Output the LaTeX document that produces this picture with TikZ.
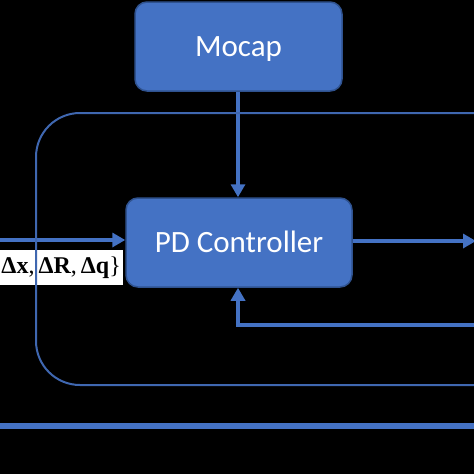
\documentclass[tikz,border=0pt]{standalone}
\usepackage{fontspec}
\setmainfont{Carlito}
\newfontfamily\serifbf{Liberation Serif}
\usetikzlibrary{arrows.meta}
\definecolor{boxblue}{HTML}{4472C4}
\definecolor{boxedge}{HTML}{2F528F}
\definecolor{linkblue}{HTML}{4472C4}
\definecolor{loopblue}{HTML}{3F67B0}
\tikzset{
  blockbox/.style={draw=boxedge, line width=1.5pt, fill=boxblue, rounded corners=12pt,
    text=white, font=\fontsize{31}{36}\selectfont, inner sep=0pt,
    text height=20pt, text depth=0pt},
  flow/.style={draw=linkblue, line width=4.5pt, -{Triangle[length=13pt,width=14pt]}},
  plainflow/.style={draw=linkblue, line width=4.5pt},
  loopline/.style={draw=loopblue, line width=2pt, rounded corners=44pt},
  labelbox/.style={fill=white, text=black, inner xsep=2pt, inner ysep=3pt,
    font=\serifbf\fontsize{24}{28}\selectfont}
}
\begin{document}
\begin{tikzpicture}[x=1pt,y=-1pt]
\fill[black] (0,0) rectangle (474,474);
\useasboundingbox (0,0) rectangle (474,474);
\clip (0,0) rectangle (474,474);
\node[blockbox, minimum width=207pt, minimum height=89pt] (mocap) at (238.5,46.5) {Mocap};
\node[blockbox, minimum width=226pt, minimum height=89pt] (pd) at (239,242.5) {PD Controller};
\node[labelbox, anchor=east, minimum height=35pt, minimum width=123pt, align=right] (lab) at (123,267.5) {\hfill\textbf{Δx},\,\textbf{ΔR},\,\textbf{Δq}\}};
\coordinate (inL) at (0,240);
\coordinate (outR) at (476,241);
\coordinate (fbR) at (480,325);
\coordinate (fbC) at (238,325);
\coordinate (loopTR) at (530,113);
\coordinate (loopBR) at (530,385);
\coordinate (loopTL) at (36,113);
\coordinate (loopBL) at (36,385);
\coordinate (baseL) at (-5,426);
\coordinate (baseR) at (480,426);
\draw[flow] (mocap.south -| 238,0) -- (pd.north -| 238,0);
\draw[flow] (inL) -- (inL -| pd.west);
\draw[flow] (pd.east |- outR) -- (outR);
\draw[flow] (fbR) -- (fbC) -- (fbC |- pd.south);
\draw[loopline] (loopTR) -- (loopTL) -- (loopBL) -- (loopBR);
\draw[plainflow, line width=6pt] (baseL) -- (baseR);
\end{tikzpicture}
\end{document}
